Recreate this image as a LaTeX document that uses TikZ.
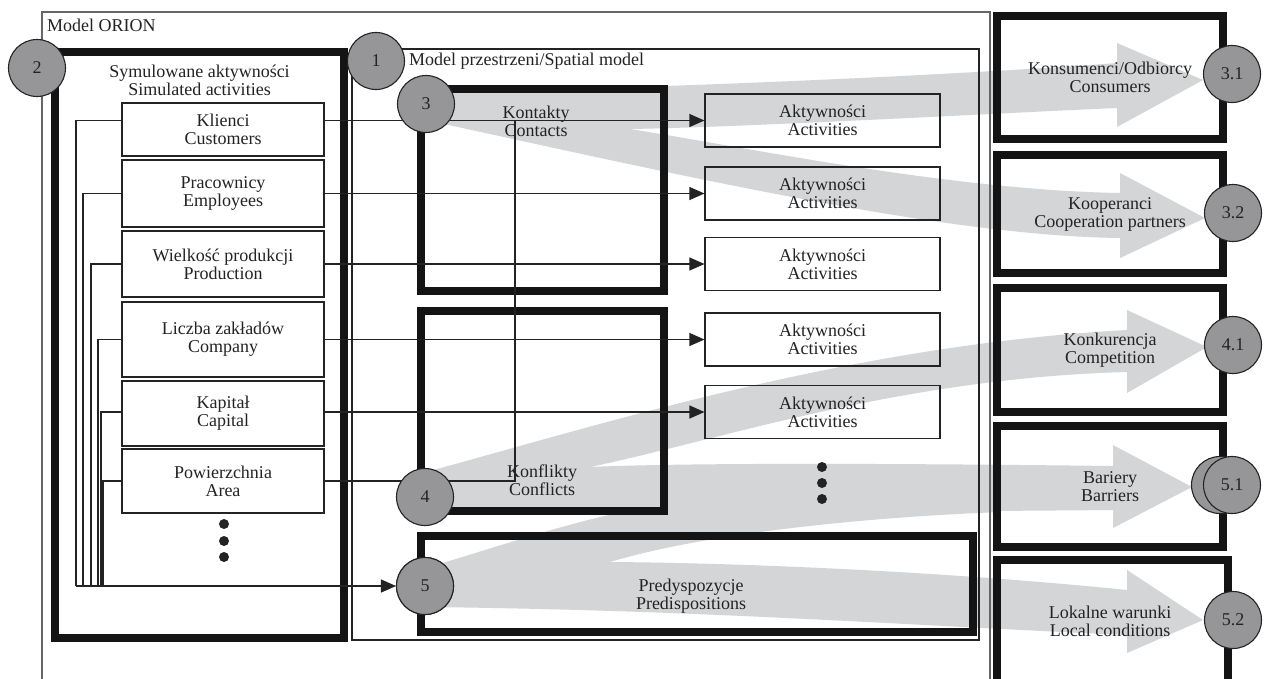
\documentclass[tikz,border=0pt]{standalone}
\usepackage{fontspec}
\setmainfont{Liberation Serif}
\usetikzlibrary{arrows.meta}
\definecolor{band}{RGB}{212,213,215}
\definecolor{disc}{RGB}{150,150,152}
\definecolor{ink}{RGB}{35,35,35}
\tikzset{
 txt/.style={font=\fontsize{18}{18}\selectfont, inner sep=0pt, align=center, text=ink},
 lbox/.style={txt, draw=ink, line width=1.1pt, minimum width=202pt},
 abox/.style={txt, draw=ink, line width=1.1pt, minimum width=235pt, minimum height=53pt},
 heavy/.style={draw=black!92, line width=8pt, inner sep=0pt},
 numdisc/.style={circle, txt, fill=disc, draw=ink, line width=1.1pt, minimum size=57pt},
 conn/.style={draw=ink, line width=1.1pt},
 arr/.style={conn, -{Triangle[length=15pt,width=13pt]}},
 frame/.style={draw=black!60, line width=1.4pt}
}
\begin{document}
\begin{tikzpicture}[x=1pt,y=-1pt]
\useasboundingbox (0,0) rectangle (1268,678);
\fill[white] (0,0) rectangle (1268,678);
% ---------- gray bands ----------
\fill[band] (426,92) .. controls (700,88) and (1000,72) .. (1117,63) -- (1117,43) -- (1203,80) -- (1117,127) -- (1117,108)
  .. controls (1000,113) and (750,127) .. (630,129)
  .. controls (750,148) and (950,190) .. (1120,193) -- (1120,173) -- (1205,218) -- (1120,258) -- (1120,238)
  .. controls (950,236) and (700,180) .. (426,120) -- cycle;
\fill[band] (426,472) .. controls (600,425) and (850,345) .. (1127,330) -- (1127,310) -- (1207,347) -- (1127,393) -- (1127,372)
  .. controls (900,378) and (720,440) .. (590,467)
  .. controls (700,462) and (950,464) .. (1113,466) -- (1113,445) -- (1192,487) -- (1113,528) -- (1113,510)
  .. controls (900,512) and (700,512) .. (600,512) -- (426,512) -- cycle;
\fill[band] (426,568) .. controls (520,540) and (580,518) .. (660,505) -- (1000,505) -- (1000,512)
  .. controls (850,518) and (700,535) .. (610,562)
  .. controls (750,563) and (950,572) .. (1127,590) -- (1127,570) -- (1203,620) -- (1127,653) -- (1127,635)
  .. controls (900,625) and (700,610) .. (426,607) -- cycle;
% ---------- frames ----------
\coordinate (oa) at (42,682); \coordinate (ob) at (42,12);
\coordinate (oc) at (990,12); \coordinate (od) at (990,682);
\draw[frame] (oa) -- (ob) -- (oc) -- (od);
\node[txt, anchor=base west] (orion) at (47,31.5) {Model ORION};
\node[draw=ink, line width=1.2pt, minimum width=627pt, minimum height=591pt, inner sep=0pt] (spatial) at (665.5,344.5) {};
\node[txt, anchor=base west] (spl) at (409,65) {Model przestrzeni/Spatial model};
\node[heavy, minimum width=289pt, minimum height=586pt] (sim) at (199.5,345) {};
\node[txt] (siml) at (199.5,80) {Symulowane aktywności\\Simulated activities};
% ---------- left boxes ----------
\node[lbox, minimum height=53pt] (klienci) at (223,129.5) {Klienci\\Customers};
\node[lbox, minimum height=67pt] (pracow) at (223,193.5) {Pracownicy\\Employees};
\node[lbox, minimum height=66pt] (wielk) at (223,264) {Wielkość produkcji\\Production};
\node[lbox, minimum height=75pt] (liczba) at (223,339.5) {Liczba zakładów\\Company};
\node[lbox, minimum height=65pt] (kapital) at (223,413.5) {Kapitał\\Capital};
\node[lbox, minimum height=64pt] (powierz) at (223,481) {Powierzchnia\\Area};
\fill[ink] (224,524) circle (5pt) (224,541) circle (5pt) (224,557) circle (5pt);
% ---------- spatial model boxes ----------
\node[heavy, minimum width=243pt, minimum height=202pt] (kont) at (542.5,190) {};
\node[heavy, minimum width=243pt, minimum height=200pt] (konf) at (542.5,411) {};
\node[heavy, minimum width=552pt, minimum height=96pt] (pred) at (697,584) {};
\node[abox] (act1) at (822.5,120.5) {Aktywności\\Activities};
\node[abox] (act2) at (822.5,193.5) {Aktywności\\Activities};
\node[abox] (act3) at (822.5,264) {Aktywności\\Activities};
\node[abox] (act4) at (822.5,339.5) {Aktywności\\Activities};
\node[abox] (act5) at (822.5,412) {Aktywności\\Activities};
\fill[ink] (822,467) circle (5pt) (822,483) circle (5pt) (822,499) circle (5pt);
% ---------- right boxes ----------
\node[heavy, txt, minimum width=226pt, minimum height=123pt] (r31) at (1110,77.5) {Konsumenci/Odbiorcy\\Consumers};
\node[heavy, txt, minimum width=226pt, minimum height=118pt] (r32) at (1110,214) {Kooperanci\\Cooperation partners};
\node[heavy, txt, minimum width=226pt, minimum height=124pt] (r41) at (1110,350) {Konkurencja\\Competition};
\node[heavy, txt, minimum width=226pt, minimum height=121pt] (r51) at (1110,486.5) {Bariery\\Barriers};
\coordinate (p1) at (997,690); \coordinate (p2) at (997,560);
\coordinate (p3) at (1228,560); \coordinate (p4) at (1228,690);
\draw[heavy] (p1) -- (p2) -- (p3) -- (p4);
\node[txt] (r52) at (1110,621) {Lokalne warunki\\Local conditions};
% ---------- connectors ----------
\coordinate (v1) at (76,586); \coordinate (v2) at (83,586); \coordinate (v3) at (91,586);
\coordinate (v4) at (98,586); \coordinate (v5) at (101,586); \coordinate (v6) at (103,586);
\draw[conn] (klienci.west |- act1) -| (v1);
\draw[conn] (pracow.west |- act2) -| (v2);
\draw[conn] (wielk.west |- act3) -| (v3);
\draw[conn] (liczba.west |- act4) -| (v4);
\draw[conn] (kapital.west |- act5) -| (v5);
\draw[conn] (powierz.west) -| (v6);
\node[numdisc] (c5) at (425,586) {5};
\draw[arr] (v1) -- (c5.west);
\draw[arr] (klienci.east |- act1) -- (act1.west);
\draw[arr] (pracow.east |- act2) -- (act2.west);
\draw[arr] (wielk.east |- act3) -- (act3.west);
\draw[arr] (liczba.east |- act4) -- (act4.west);
\draw[arr] (kapital.east |- act5) -- (act5.west);
\coordinate (cj) at (515,481); \coordinate (ct) at (515,120.5);
\draw[conn] (powierz.east) -- (cj) -- (ct);
% ---------- discs ----------
\node[numdisc] (c1) at (376,61) {1};
\node[numdisc] (c2) at (37,68) {2};
\node[numdisc] (c3) at (426,104) {3};
\node[numdisc] (c4) at (425,497) {4};
\node[numdisc] (c5b) at (425,586) {5};
\node[numdisc] (c31) at (1232,74) {3.1};
\node[numdisc] (c32) at (1233,213) {3.2};
\node[numdisc] (c41) at (1233,345) {4.1};
\node[numdisc] (c51b) at (1220,485) {};
\node[numdisc] (c51) at (1232,485) {5.1};
\node[numdisc] (c52) at (1233,620) {5.2};
% ---------- labels ----------
\node[txt] (kontl) at (536,121) {Kontakty\\Contacts};
\node[txt] (konfl) at (542,480) {Konflikty\\Conflicts};
\node[txt] (predl) at (691,596) {Predyspozycje\\Predispositions};
\end{tikzpicture}
\end{document}
